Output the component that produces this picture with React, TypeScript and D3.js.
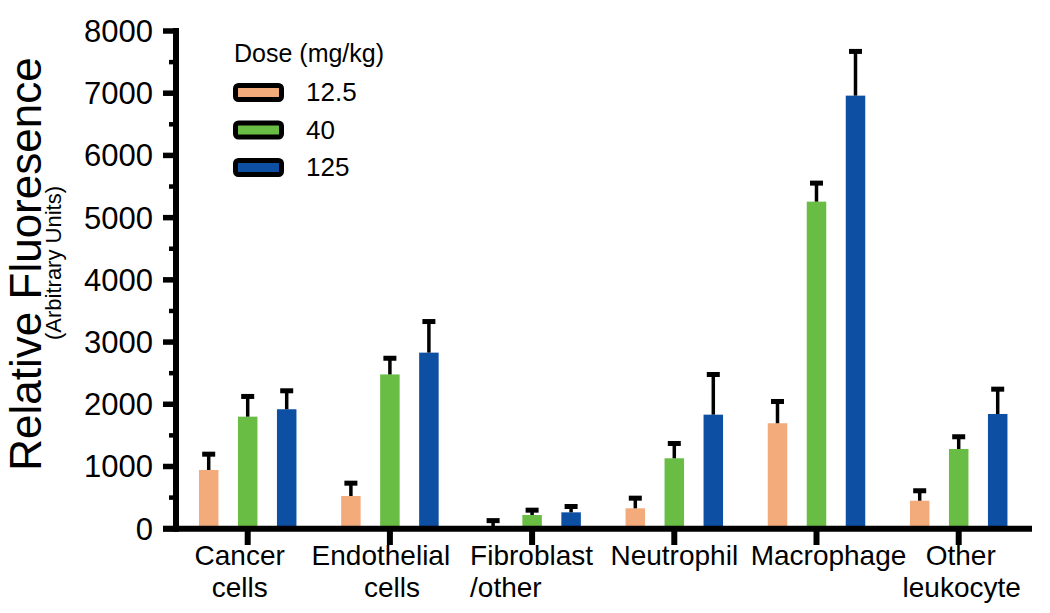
import React from "react";
import * as d3 from "d3";

const categories = ["Cancer cells", "Endothelial cells", "Fibroblast /other", "Neutrophil", "Macrophage", "Other leukocyte"];
const categoryLines = [["Cancer", "cells"], ["Endothelial", "cells"], ["Fibroblast", "/other"], ["Neutrophil"], ["Macrophage"], ["Other", "leukocyte"]];
const doses = ["12.5", "40", "125"];
const dose125Mean = [1920, 2830, 263, 1833, 6961, 1844];
const dose125Err = [337, 540, 134, 686, 751, 439];
const dose40Mean = [1801, 2480, 220, 1132, 5257, 1281];
const dose40Err = [365, 300, 118, 278, 338, 237];
const dose12Mean = [944, 526, 30, 328, 1695, 450];
const dose12Err = [294, 246, 140, 203, 390, 200];
const yTicks = [0, 1000, 2000, 3000, 4000, 5000, 6000, 7000, 8000];
const yMinorTicks = [500, 1500, 2500, 3500, 4500, 5500, 6500, 7500];
const colors = ["#F3AB7B", "#69BD45", "#0D4FA3"];

const means = [dose12Mean, dose40Mean, dose125Mean];
const errs = [dose12Err, dose40Err, dose125Err];

const FONT = "'Liberation Sans', Arial, Helvetica, sans-serif";

export default function App() {
  const W = 1050, H = 613;
  const y = d3.scaleLinear().domain([0, 8000]).range([528.7, 31]);
  const x = d3.scaleBand<string>().domain(categories).range([176.6, 1029.8]).padding(0);
  const inner = d3.scalePoint<string>().domain(doses).range([-39, 39]);
  const barW = 19.5;
  const capW = 13;
  const capH = 5;
  const axisX = 176;
  const axisY = 528.7;

  // label line offsets relative to tick center
  const lineDx = [[-8, -8], [-9, 2], [-62, -62], [0], [12], [2, 3]];
  const lineAnchor = [["middle", "middle"], ["middle", "middle"], ["start", "start"], ["middle"], ["middle"], ["middle", "middle"]];

  return (
    <svg width={W} height={H} style={{ position: "absolute", left: 0, top: 0, background: "#fff" }} fontFamily={FONT}>
      <rect x={0} y={0} width={W} height={H} fill="#fff" />
      {/* bars */}
      {doses.map((d, si) =>
        categories.map((c, ci) => {
          const cx = (x(c) as number) + x.bandwidth() / 2 + (inner(d) as number);
          const m = means[si][ci];
          const e = errs[si][ci];
          const top = y(m);
          const capTop = y(m + e);
          return (
            <g key={d + c}>
              <rect x={cx - barW / 2} y={top} width={barW} height={axisY - top} fill={colors[si]} />
              <line x1={cx} x2={cx} y1={top} y2={capTop + capH / 2} stroke="#000" strokeWidth={3.5} />
              <rect x={cx - capW / 2} y={capTop} width={capW} height={capH} fill="#000" />
            </g>
          );
        })
      )}
      {/* y axis */}
      <line x1={axisX} x2={axisX} y1={y(8000) - 3} y2={axisY + 3} stroke="#000" strokeWidth={6} />
      {yTicks.map((t) => (
        <g key={t}>
          <line x1={163} x2={axisX} y1={y(t)} y2={y(t)} stroke="#000" strokeWidth={5.5} />
          <text x={153} y={y(t) + 11} textAnchor="end" fontSize={31} fill="#000">
            {t}
          </text>
        </g>
      ))}
      {yMinorTicks.map((t) => (
        <line key={t} x1={169} x2={axisX} y1={y(t)} y2={y(t)} stroke="#000" strokeWidth={4.5} />
      ))}
      {/* x axis */}
      <line x1={163} x2={1032} y1={axisY} y2={axisY} stroke="#000" strokeWidth={6} />
      {categories.map((c, ci) => {
        const cx = (x(c) as number) + x.bandwidth() / 2;
        return (
          <g key={c}>
            <line x1={cx} x2={cx} y1={axisY} y2={545} stroke="#000" strokeWidth={6} />
            {categoryLines[ci].map((ln, li) => (
              <text
                key={li}
                x={cx + lineDx[ci][li]}
                y={565 + li * 32}
                textAnchor={lineAnchor[ci][li] as any}
                fontSize={28}
                fill="#000"
              >
                {ln}
              </text>
            ))}
          </g>
        );
      })}
      {/* y axis titles */}
      <text transform="translate(41,264) rotate(-90)" textAnchor="middle" fontSize={44} fill="#000">
        Relative Fluoresence
      </text>
      <text transform="translate(61,263) rotate(-90)" textAnchor="middle" fontSize={22} fill="#000">
        (Arbitrary Units)
      </text>
      {/* legend */}
      <text x={234} y={61.5} fontSize={25} fill="#000">
        Dose (mg/kg)
      </text>
      {doses.map((d, i) => (
        <g key={d}>
          <rect x={235.5} y={85.5 + i * 37.5} width={46} height={14} rx={3} fill={colors[i]} stroke="#000" strokeWidth={5} />
          <text x={306} y={101 + i * 37.5} fontSize={26} fill="#000">
            {d}
          </text>
        </g>
      ))}
    </svg>
  );
}
